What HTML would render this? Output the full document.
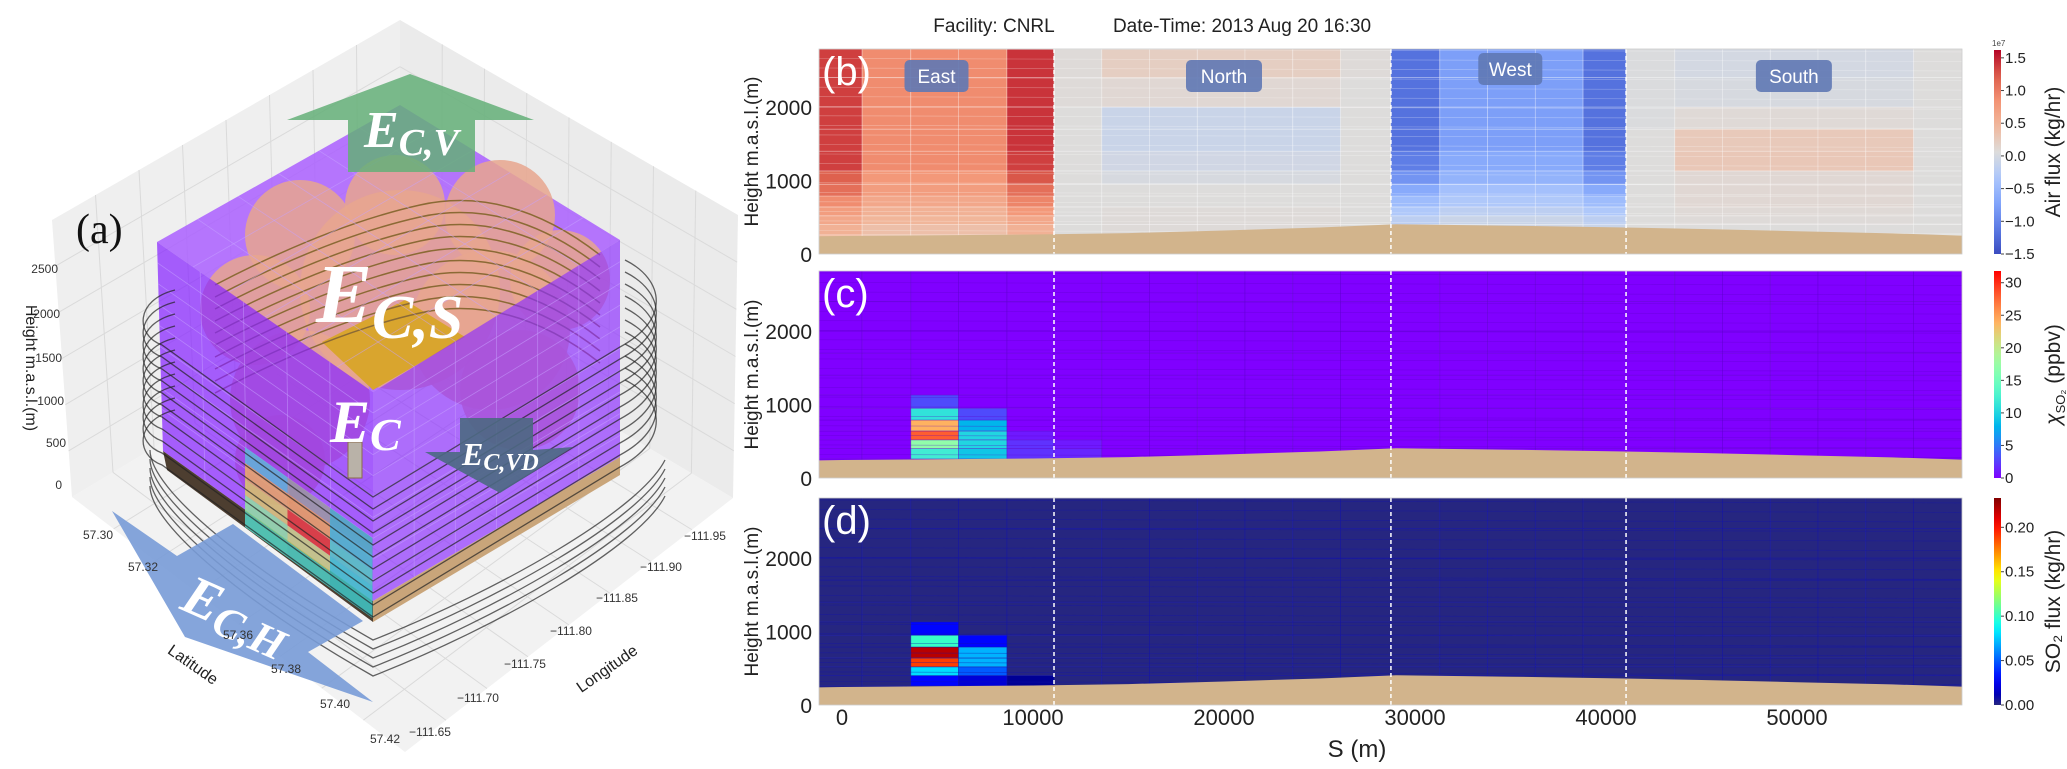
<!DOCTYPE html>
<html><head><meta charset="utf-8">
<style>
html,body{margin:0;padding:0;background:#fff;}
svg{display:block;}
text{font-family:"Liberation Sans",Arial,sans-serif;}
.serif{font-family:"Liberation Serif","Times New Roman",serif;}
</style></head>
<body>
<svg id="root" width="2067" height="769" viewBox="0 0 2067 769" xmlns="http://www.w3.org/2000/svg">
<defs>
<clipPath id="clipB"><rect x="819" y="49" width="1143" height="205"/></clipPath>
<clipPath id="clipC"><rect x="819" y="271" width="1143" height="207"/></clipPath>
<clipPath id="clipD"><rect x="819" y="498" width="1143" height="207"/></clipPath>
</defs>

<g id="panelA">
  <polygon points="52,220 400,20 400,300 72,497" fill="#efefef"/>
  <polygon points="400,20 738,215 733,498 400,300" fill="#ebebeb"/>
  <polygon points="72,497 400,300 733,498 405,752" fill="#f2f2f2"/>
  <g id="paneGrid" stroke="#dadada" stroke-width="1" fill="none"></g>

  <polygon points="157,242 400,105 620,240 373,392" fill="rgb(170,95,255)" fill-opacity="0.85"/>
  <g fill="#e8a68e" fill-opacity="0.85">
    <circle cx="300" cy="235" r="55"/><circle cx="395" cy="205" r="50"/><circle cx="500" cy="215" r="55"/>
    <circle cx="560" cy="280" r="50"/><circle cx="255" cy="310" r="55"/><circle cx="400" cy="290" r="100"/>
    <circle cx="490" cy="330" r="80"/><circle cx="300" cy="400" r="70"/><circle cx="280" cy="460" r="45"/>
    <circle cx="520" cy="390" r="60"/>
  </g>
  <polygon points="322,342 405,300 465,337 373,390" fill="#d9a52e"/>
  <g id="topLines" stroke="#8b6a35" stroke-width="1.5" fill="none"></g>

  <polygon points="157,242 373,392 373,601 163,451" fill="rgb(135,35,255)" fill-opacity="0.72"/>
  <polygon points="373,392 620,240 620,457 373,601" fill="rgb(140,45,255)" fill-opacity="0.68"/>
  <g id="boxGrid" stroke="#c7a3ff" stroke-width="0.8" stroke-opacity="0.55" fill="none"></g>
  <polygon points="163,451 373,601 373,622 167,470" fill="#4d3e30"/>
  <polygon points="373,601 620,457 620,475 373,622" fill="#c9a57a"/>
  <g id="plumeCells"></g>
  <g id="trajLines" stroke="#222" stroke-width="1.3" stroke-opacity="0.7" fill="none"></g>

  <rect x="348" y="442" width="14" height="36" fill="#b9b2a8" stroke="#8a6a4a"/>

  <polygon points="410,74 534,120 475,120 475,172 348,172 348,120 287,120" fill="rgb(100,175,120)" fill-opacity="0.85"/>
  <polygon points="112,511 177,556 233,524 363,621 308,652 373,702 185,637" fill="rgb(120,155,215)" fill-opacity="0.9"/>
  <polygon points="460,418 533,418 533,450 573,447 500,493 425,452 460,452" fill="rgb(75,105,130)" fill-opacity="0.9"/>

  <g class="serif" fill="#fff" font-weight="bold" font-style="italic">
    <text x="364" y="147" font-size="52" class="serif">E<tspan font-size="38" dy="8">C,V</tspan></text>
    <text x="316" y="322" font-size="84" class="serif">E<tspan font-size="62" dy="16">C,S</tspan></text>
    <text x="330" y="442" font-size="60" class="serif">E<tspan font-size="46" dy="8">C</tspan></text>
    <text x="462" y="465" font-size="32" class="serif">E<tspan font-size="24" dy="5">C,VD</tspan></text>
    <text x="182" y="609" font-size="56" class="serif" transform="rotate(24 182 600)">E<tspan font-size="44" dy="8">C,H</tspan></text>
  </g>
  <text x="76" y="243" font-size="42" class="serif" fill="#111">(a)</text>

  <g font-size="12" fill="#333">
    <text x="58" y="273" text-anchor="end">2500</text>
    <text x="60" y="318" text-anchor="end">2000</text>
    <text x="62" y="362" text-anchor="end">1500</text>
    <text x="64" y="405" text-anchor="end">1000</text>
    <text x="66" y="447" text-anchor="end">500</text>
    <text x="62" y="489" text-anchor="end">0</text>
  </g>
  <text x="26" y="368" font-size="16" fill="#222" text-anchor="middle" transform="rotate(90 26 368)">Height m.a.s.l.(m)</text>
  <g font-size="12" fill="#333" text-anchor="middle">
    <text x="98" y="539">57.30</text><text x="143" y="571">57.32</text><text x="238" y="639">57.36</text>
    <text x="286" y="673">57.38</text><text x="335" y="708">57.40</text><text x="385" y="743">57.42</text>
  </g>
  <text x="190" y="669" font-size="16" fill="#222" text-anchor="middle" transform="rotate(35 190 669)">Latitude</text>
  <g font-size="12" fill="#333" text-anchor="middle">
    <text x="430" y="736">−111.65</text><text x="478" y="702">−111.70</text><text x="525" y="668">−111.75</text>
    <text x="571" y="635">−111.80</text><text x="617" y="602">−111.85</text><text x="661" y="571">−111.90</text><text x="705" y="540">−111.95</text>
  </g>
  <text x="610" y="673" font-size="16" fill="#222" text-anchor="middle" transform="rotate(-35 610 673)">Longitude</text>
</g>

<text x="994" y="32" font-size="19" fill="#222" text-anchor="middle">Facility: CNRL</text>
<text x="1242" y="32" font-size="19" fill="#222" text-anchor="middle">Date-Time: 2013 Aug 20 16:30</text>
<g id="panelB" clip-path="url(#clipB)"></g>
<g id="panelC" clip-path="url(#clipC)"></g>
<g id="panelD" clip-path="url(#clipD)"></g>
<g id="overlay"></g>
</svg>

<script>
const sEdges = [-1200,1050,3600,6100,8640,11100,13600,16100,18600,21100,23600,26100,28740,31300,33800,36300,38800,41050,43600,46100,48600,51100,53600,56100,58640];
const hEdges = [0,260,400,520,640,790,950,1130,1400,1700,2000,2400,2840];
const airFlux = [
 [0.4,0.3,0.3,0.3,0.4, 0,0,0,0,0,0,0, -0.1,-0.1,-0.1,-0.1,-0.1, 0,0,0,0,0,0,0],
 [0.45,0.3,0.3,0.3,0.45, 0,0.02,0.02,0.02,0.02,0.02,0, -0.15,-0.1,-0.1,-0.1,-0.15, 0,0,0,0,0,0,0],
 [0.55,0.4,0.4,0.4,0.55, 0,0.02,0.02,0.02,0.02,0.02,0, -0.25,-0.15,-0.15,-0.15,-0.25, 0,0.02,0.02,0.02,0.02,0.02,0],
 [0.65,0.45,0.45,0.45,0.7, 0,0.02,0.02,0.02,0.02,0.02,0, -0.35,-0.25,-0.25,-0.25,-0.35, 0,0.03,0.03,0.03,0.03,0.03,0],
 [0.8,0.55,0.55,0.55,0.85, 0,0,0,0,0,0,0, -0.5,-0.35,-0.35,-0.35,-0.5, 0,0.05,0.05,0.05,0.05,0.05,0],
 [1.0,0.65,0.65,0.65,1.0, 0,0,0,0,0,0,0, -0.7,-0.45,-0.45,-0.45,-0.7, 0,0.05,0.05,0.05,0.05,0.05,0],
 [1.1,0.7,0.7,0.7,1.15, 0,-0.05,-0.05,-0.05,-0.05,-0.05,0, -0.9,-0.6,-0.6,-0.6,-0.9, 0,0.05,0.05,0.05,0.05,0.05,0],
 [1.25,0.8,0.8,0.8,1.25, 0,-0.1,-0.1,-0.1,-0.1,-0.1,0, -1.1,-0.7,-0.7,-0.7,-1.1, 0,0.22,0.22,0.22,0.22,0.22,0],
 [1.25,0.8,0.8,0.8,1.3, 0,-0.15,-0.15,-0.15,-0.15,-0.15,0, -1.2,-0.8,-0.8,-0.8,-1.2, 0,0.2,0.2,0.2,0.2,0.2,0],
 [1.25,0.8,0.8,0.8,1.3, 0,-0.15,-0.15,-0.15,-0.15,-0.15,0, -1.2,-0.8,-0.8,-0.8,-1.2, -0.02,0.03,0.03,0.03,0.03,0.03,0],
 [1.25,0.8,0.8,0.8,1.3, 0.02,0.05,0.05,0.05,0.05,0.05,0, -1.2,-0.8,-0.8,-0.8,-1.2, -0.02,-0.05,-0.05,-0.05,-0.05,-0.05,0],
 [1.25,0.8,0.8,0.8,1.3, 0.02,0.15,0.15,0.15,0.15,0.15,0.02, -1.2,-0.8,-0.8,-0.8,-1.2, -0.02,-0.08,-0.08,-0.08,-0.08,-0.08,0]
];
const so2Mix = [
 [0,0,0,0,0,0,0,0,0,0,0,0,0,0,0,0,0,0,0,0,0,0,0,0],
 [0,0,12,9,2,1.5,0,0,0,0,0,0,0,0,0,0,0,0,0,0,0,0,0,0],
 [0,0,17,10,2,1,0,0,0,0,0,0,0,0,0,0,0,0,0,0,0,0,0,0],
 [0,0,28,10,1,0,0,0,0,0,0,0,0,0,0,0,0,0,0,0,0,0,0,0],
 [0,0,24,8,0,0,0,0,0,0,0,0,0,0,0,0,0,0,0,0,0,0,0,0],
 [0,0,11,3,0,0,0,0,0,0,0,0,0,0,0,0,0,0,0,0,0,0,0,0],
 [0,0,3,0,0,0,0,0,0,0,0,0,0,0,0,0,0,0,0,0,0,0,0,0],
 [0,0,0,0,0,0,0,0,0,0,0,0,0,0,0,0,0,0,0,0,0,0,0,0],
 [0,0,0,0,0,0,0,0,0,0,0,0,0,0,0,0,0,0,0,0,0,0,0,0],
 [0,0,0,0,0,0,0,0,0,0,0,0,0,0,0,0,0,0,0,0,0,0,0,0],
 [0,0,0,0,0,0,0,0,0,0,0,0,0,0,0,0,0,0,0,0,0,0,0,0],
 [0,0,0,0,0,0,0,0,0,0,0,0,0,0,0,0,0,0,0,0,0,0,0,0]
];
const so2Flux = [
 [0,0,0,0,0,0,0,0,0,0,0,0,0,0,0,0,0,0,0,0,0,0,0,0],
 [0,0,0.03,0.02,0.005,0,0,0,0,0,0,0,0,0,0,0,0,0,0,0,0,0,0,0],
 [0,0,0.08,0.05,0,0,0,0,0,0,0,0,0,0,0,0,0,0,0,0,0,0,0,0],
 [0,0,0.19,0.07,0,0,0,0,0,0,0,0,0,0,0,0,0,0,0,0,0,0,0,0],
 [0,0,0.22,0.07,0,0,0,0,0,0,0,0,0,0,0,0,0,0,0,0,0,0,0,0],
 [0,0,0.10,0.03,0,0,0,0,0,0,0,0,0,0,0,0,0,0,0,0,0,0,0,0],
 [0,0,0.03,0,0,0,0,0,0,0,0,0,0,0,0,0,0,0,0,0,0,0,0,0],
 [0,0,0,0,0,0,0,0,0,0,0,0,0,0,0,0,0,0,0,0,0,0,0,0],
 [0,0,0,0,0,0,0,0,0,0,0,0,0,0,0,0,0,0,0,0,0,0,0,0],
 [0,0,0,0,0,0,0,0,0,0,0,0,0,0,0,0,0,0,0,0,0,0,0,0],
 [0,0,0,0,0,0,0,0,0,0,0,0,0,0,0,0,0,0,0,0,0,0,0,0],
 [0,0,0,0,0,0,0,0,0,0,0,0,0,0,0,0,0,0,0,0,0,0,0,0]
];
const terrainS = [-1200,0,5000,10000,15000,20000,25000,29000,35000,41000,45000,50000,55000,58640];
const terrainH = [240,245,255,265,285,320,360,405,385,360,340,310,280,250];
const boundaryS = [11100,28740,41050];
const regionNames = ["East","North","West","South"];
const regionCenterS = [4950,20000,34990,49840];
const xTickValues = [0,10000,20000,30000,40000,50000];
const yTickValues = [0,1000,2000];
const cbTicksB = [-1.5,-1.0,-0.5,0.0,0.5,1.0,1.5];
const cbTicksC = [0,5,10,15,20,25,30];
const cbTicksD = [0,0.05,0.10,0.15,0.20];

const NS = "http://www.w3.org/2000/svg";
function mk(tag, attrs, parent){ const e=document.createElementNS(NS,tag); for(const k in attrs) e.setAttribute(k,attrs[k]); if(parent) parent.appendChild(e); return e; }
const X0 = 842, PX_PER_M = 0.0191, PX_PER_H = 0.0735;
function xS(s){ return X0 + s*PX_PER_M; }
const panels = [
  {id:"panelB", top:49, zero:254, data:airFlux, vmin:-1.5, vmax:1.5, cmap:"coolwarm", grid:"rgba(255,255,255,0.35)", label:"(b)"},
  {id:"panelC", top:271, zero:478, data:so2Mix, vmin:0, vmax:31.8, cmap:"rainbow", grid:"rgba(90,0,200,0.45)", label:"(c)"},
  {id:"panelD", top:498, zero:705, data:so2Flux, vmin:0, vmax:0.233, cmap:"jet", grid:"rgba(20,20,170,0.55)", label:"(d)"}
];
function yH(p,h){ return p.zero - h*PX_PER_H; }
function clamp(v){ return Math.max(0,Math.min(1,v)); }
function rgb(r,g,b){ return "rgb("+Math.round(r)+","+Math.round(g)+","+Math.round(b)+")"; }
const cwStops=[[0,59,76,192],[0.125,92,123,229],[0.25,130,165,251],[0.375,172,199,252],[0.5,221,220,219],[0.625,241,184,157],[0.75,243,147,116],[0.875,220,93,75],[1,180,4,38]];
function cmap(name,t){
  t=clamp(t);
  if(name==="coolwarm"){ for(let i=1;i<cwStops.length;i++){ if(t<=cwStops[i][0]){ const a=cwStops[i-1],b=cwStops[i],f=(t-a[0])/(b[0]-a[0]); return rgb(a[1]+(b[1]-a[1])*f,a[2]+(b[2]-a[2])*f,a[3]+(b[3]-a[3])*f);} } return rgb(180,4,38); }
  if(name==="rainbow"){ return rgb(255*clamp(Math.abs(2*t-0.5)),255*Math.sin(Math.PI*t),255*Math.cos(Math.PI*t/2)); }
  const r=clamp(1.5-Math.abs(4*t-3)), g=clamp(1.5-Math.abs(4*t-2)), b=clamp(1.5-Math.abs(4*t-1));
  if(t<0.02) return rgb(38,38,128);
  return rgb(255*r,255*g,255*b);
}
function terrainAt(s){ for(let i=1;i<terrainS.length;i++){ if(s<=terrainS[i]){ const f=(s-terrainS[i-1])/(terrainS[i]-terrainS[i-1]); return terrainH[i-1]+(terrainH[i]-terrainH[i-1])*f; } } return terrainH[terrainH.length-1]; }

const overlay = document.getElementById("overlay");
panels.forEach((p,pi)=>{
  const g=document.getElementById(p.id);
  for(let li=0; li<hEdges.length-1; li++){
    for(let ci=0; ci<sEdges.length-1; ci++){
      const v=p.data[li][ci];
      const x1=xS(sEdges[ci]), x2=xS(sEdges[ci+1]);
      const hb=Math.max(hEdges[li],0), ht=hEdges[li+1];
      const y1=yH(p,ht), y2=yH(p,hb);
      const r=mk("rect",{x:x1.toFixed(1),y:y1.toFixed(1),width:(x2-x1).toFixed(1),height:(y2-y1).toFixed(1),fill:cmap(p.cmap,(v-p.vmin)/(p.vmax-p.vmin)),stroke:p.grid,"stroke-width":"0.8"},g);
      
      
    }
  }
  for(let h=150; h<2840; h+=130){
    const l=mk("line",{x1:819,x2:1962,y1:yH(p,h+40).toFixed(1),y2:yH(p,h).toFixed(1),stroke:p.grid,"stroke-width":"0.6"},g);
    
    
  }
  let pts=[[xS(-1200),p.zero+2]];
  terrainS.forEach((s,i)=>pts.push([xS(s),yH(p,terrainH[i])]));
  pts.push([xS(58640),p.zero+2]);
  const tp=mk("polygon",{points:pts.map(q=>q[0].toFixed(1)+","+q[1].toFixed(1)).join(" "),fill:"#d2b48c"},g);
  
  
  boundaryS.forEach(s=>{
    const l=mk("line",{x1:xS(s),x2:xS(s),y1:p.top,y2:p.zero,stroke:"#fff","stroke-width":"1.5","stroke-dasharray":"4,3"},g);
    
    
  });
  const fr=mk("rect",{x:819,y:p.top,width:1143,height:p.zero-p.top,fill:"none",stroke:"#ccc","stroke-width":"0.8"},overlay);
  
  
  const lb=mk("text",{x:822,y:p.top+36,"font-size":"40",fill:"#fff"},overlay);
  lb.textContent=p.label;
  
  
  yTickValues.forEach(v=>{
    const t=mk("text",{x:812,y:(yH(p,v)+8).toFixed(1),"font-size":"21","text-anchor":"end",fill:"#222"},overlay);
    t.textContent=String(v);
    
    
  });
  const cy=(p.top+p.zero)/2;
  const yl=mk("text",{x:758,y:cy,"font-size":"19","text-anchor":"middle",fill:"#222",transform:"rotate(-90 758 "+cy+")"},overlay);
  yl.textContent="Height m.a.s.l.(m)";
  
  
});

regionNames.forEach((n,i)=>{
  const cx=xS(regionCenterS[i]); const w=n.length*12+16; const cy=(n==="West")?69:76;
  const bx=mk("rect",{x:(cx-w/2).toFixed(1),y:cy-16,width:w,height:32,rx:5,fill:"rgb(95,120,180)","fill-opacity":"0.9"},overlay);
  
  
  const t=mk("text",{x:cx.toFixed(1),y:cy+7,"font-size":"19","text-anchor":"middle",fill:"#fff"},overlay);
  t.textContent=n;
  
  
});

xTickValues.forEach(v=>{
  const t=mk("text",{x:xS(v).toFixed(1),y:725,"font-size":"22","text-anchor":"middle",fill:"#222"},overlay);
  t.textContent=String(v);
  
  
});
const xt=mk("text",{x:1357,y:757,"font-size":"24","text-anchor":"middle",fill:"#222"},overlay);
xt.textContent="S (m)";



const cbs=[
  {top:50,bot:254,vmin:-1.5,vmax:1.62,cmap:"coolwarm",ticks:cbTicksB,fmt:v=>v.toFixed(1).replace("-","−"),title:"Air flux (kg/hr)",name:"colorbar-air-flux"},
  {top:271,bot:478,vmin:0,vmax:31.8,cmap:"rainbow",ticks:cbTicksC,fmt:v=>String(v),title:null,name:"colorbar-so2-mixing"},
  {top:498,bot:705,vmin:0,vmax:0.233,cmap:"jet",ticks:cbTicksD,fmt:v=>v.toFixed(2),title:"SO₂ flux (kg/hr)",name:"colorbar-so2-flux"}
];
const defs=document.querySelector("defs");
cbs.forEach((c,i)=>{
  const gr=mk("linearGradient",{id:"cbg"+i,x1:"0",y1:"1",x2:"0",y2:"0"},defs);
  for(let k=0;k<=20;k++){ mk("stop",{offset:(k/20).toFixed(2),"stop-color":cmap(c.cmap,k/20)},gr); }
  const r=mk("rect",{x:1994,y:c.top,width:7,height:c.bot-c.top,fill:"url(#cbg"+i+")"},overlay);
  
  
  c.ticks.forEach(v=>{
    const y=c.bot-(v-c.vmin)/(c.vmax-c.vmin)*(c.bot-c.top);
    mk("line",{x1:2001,x2:2004,y1:y,y2:y,stroke:"#444","stroke-width":"1"},overlay);
    const t=mk("text",{x:2005,y:(y+5).toFixed(1),"font-size":"15",fill:"#222"},overlay);
    t.textContent=c.fmt(v);
    
    
  });
  const cy=(c.top+c.bot)/2;
  const t=mk("text",{x:2060,y:cy,"font-size":"21","text-anchor":"middle",fill:"#222",transform:"rotate(-90 2060 "+cy+")"},overlay);
  if(c.title){ t.textContent=c.title; }
  else { t.innerHTML='<tspan font-style="italic">χ</tspan><tspan font-size="13" dy="5">SO₂</tspan><tspan dy="-5"> (ppbv)</tspan>'; }
  
  
});
const e7=mk("text",{x:1992,y:46,"font-size":"8",fill:"#444"},overlay);
e7.textContent="1e7";



function lerp(a,b,t){ return [a[0]+(b[0]-a[0])*t, a[1]+(b[1]-a[1])*t]; }
const pg=document.getElementById("paneGrid");
function gridQuad(A,B,C,D,n1,n2){
  for(let i=1;i<n1;i++){ const p=lerp(A,B,i/n1), q=lerp(D,C,i/n1); mk("line",{x1:p[0],y1:p[1],x2:q[0],y2:q[1]},pg); }
  for(let j=1;j<n2;j++){ const p=lerp(A,D,j/n2), q=lerp(B,C,j/n2); mk("line",{x1:p[0],y1:p[1],x2:q[0],y2:q[1]},pg); }
}
gridQuad([52,220],[400,20],[400,300],[72,497],8,6);
gridQuad([400,20],[738,215],[733,498],[400,300],8,6);
gridQuad([72,497],[400,300],[733,498],[405,752],8,8);

const bg=document.getElementById("boxGrid");
function boxGrid(A,B,C,D,n1,n2){
  for(let i=1;i<n1;i++){ const p=lerp(A,B,i/n1), q=lerp(D,C,i/n1); mk("line",{x1:p[0],y1:p[1],x2:q[0],y2:q[1]},bg); }
  for(let j=1;j<n2;j++){ const p=lerp(A,D,j/n2), q=lerp(B,C,j/n2); mk("line",{x1:p[0],y1:p[1],x2:q[0],y2:q[1]},bg); }
}
boxGrid([157,242],[373,392],[373,601],[163,451],5,10);
boxGrid([373,392],[620,240],[620,457],[373,601],6,10);
boxGrid([157,242],[400,105],[620,240],[373,392],6,6);

const pc=document.getElementById("plumeCells");
const cellCols=[
  ["#5fb4d8","#e9a866","#d8c56a","#8fe0a0","#54d6c8"],
  ["#9a9aa0","#e7a05a","#e03a2a","#c8d27a","#4fd0c8"],
  ["#4bb0c0","#4ab8c8","#52c8c0","#40c8c8","#40c8c8"]
];
for(let c=0;c<3;c++){
  const x1=245+c*42.5, x2=x1+42.5;
  for(let r=0;r<5;r++){
    const t1=447+r*16, t2=t1+16;
    const off1=(x1-245)*0.714, off2=(x2-245)*0.714;
    const poly=mk("polygon",{points:[x1+","+(t1+off1),x2+","+(t1+off2),x2+","+(t2+off2),x1+","+(t2+off1)].join(" "),fill:cellCols[c][r],"fill-opacity":"0.85"},pc);
    
    
  }
}

const tl=document.getElementById("trajLines");
for(let i=0;i<11;i++){
  const yL=345+i*12;
  const d="M 175,"+(yL-55)+" C 135,"+(yL-45)+" 135,"+(yL-10)+" 162,"+yL+
    " L 373,"+(yL+152)+" L 620,"+(yL+2)+" C 670,"+(yL-25)+" 665,"+(yL-65)+" 625,"+(yL-85);
  mk("path",{d:d},tl);
}
for(let i=0;i<5;i++){
  const y=480+i*9;
  mk("path",{d:"M 150,"+(y-30)+" C 150,"+(y+10)+" 250,"+(y+90)+" 373,"+(y+160)+" C 500,"+(y+110)+" 640,"+(y+30)+" 665,"+(y-20)},tl);
}
const tlt=document.getElementById("topLines");
for(let i=0;i<10;i++){
  const y=215+i*12;
  mk("path",{d:"M 215,"+(y+70)+" Q 330,"+(y+10)+" 420,"+(y-10)+" T 600,"+(y+40)},tlt);
}
</script>
</body></html>
